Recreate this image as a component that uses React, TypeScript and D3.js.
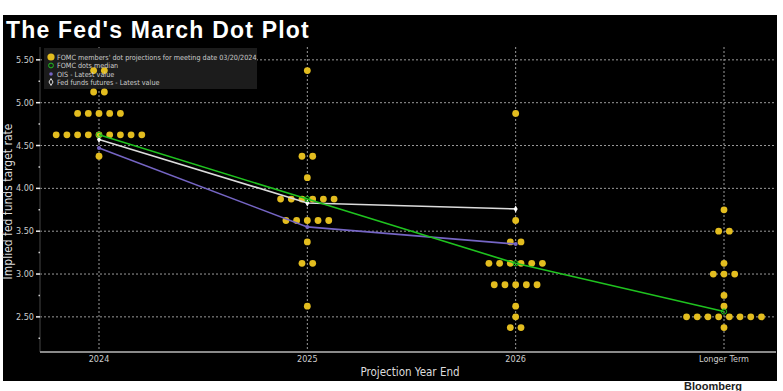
import React from 'react';
import * as d3 from 'd3';

// categories on the x axis
const categories = ['2024', '2025', '2026', 'Longer Term'];

// FOMC dot projections: [rate, number of participants] per category
const dots2024 = [[5.375, 2], [5.125, 2], [4.875, 5], [4.625, 9], [4.375, 1]];
const dots2025 = [[5.375, 1], [4.375, 2], [4.125, 1], [3.875, 6], [3.625, 5], [3.375, 1], [3.125, 2], [2.625, 1]];
const dots2026 = [[4.875, 1], [3.625, 1], [3.375, 2], [3.125, 6], [2.875, 5], [2.625, 1], [2.5, 1], [2.375, 2]];
const dotsLonger = [[3.75, 1], [3.5, 2], [3.125, 1], [3.0, 3], [2.75, 1], [2.625, 1], [2.5, 8], [2.375, 1]];
const dotSets = [dots2024, dots2025, dots2026, dotsLonger];

// lines
const medianValues = [4.625, 3.875, 3.125, 2.5625];
const oisValues = [4.47, 3.55, 3.35];
const futuresValues = [4.57, 3.83, 3.76];

const yTicks = [2.5, 3.0, 3.5, 4.0, 4.5, 5.0, 5.5];
const yMinorTicks = [2.25, 2.75, 3.25, 3.75, 4.25, 4.75, 5.25];

const legendItems = [
  "FOMC members' dot projections for meeting date 03/20/2024",
  'FOMC dots median',
  'OIS - Latest value',
  'Fed funds futures - Latest value',
];

const W = 783;
const H = 391;
const plotLeft = 40;
const plotRight = 776;
const plotTop = 47;
const plotBottom = 352;

const DOT = '#e3bd1f';
const GREEN = '#1fc21f';
const PURPLE = '#7565c4';
const WHITE_LINE = '#dcdcdc';
const FONT = '"DejaVu Sans Condensed", "DejaVu Sans", sans-serif';

export default function App() {
  const x = d3.scalePoint<string>().domain(categories).range([99, 724]);
  const y = d3.scaleLinear().domain([2.09, 5.65]).range([plotBottom, plotTop]);

  const line = d3.line<number>()
    .x((_, i) => x(categories[i]) as number)
    .y(d => y(d));

  const dotSpacing = 10.7;
  const dotMarks: { cx: number; cy: number }[] = [];
  dotSets.forEach((set, ci) => {
    const cx0 = x(categories[ci]) as number;
    set.forEach(([rate, n]) => {
      for (let i = 0; i < n; i++) {
        dotMarks.push({ cx: cx0 + (i - (n - 1) / 2) * dotSpacing, cy: y(rate) });
      }
    });
  });

  return (
    <svg width={W} height={H} style={{ position: 'absolute', left: 0, top: 0, background: '#fff' }}>
      <rect x={3} y={15} width={774} height={366} fill="#000" />

      {/* title */}
      <text x={6} y={38} fill="#fff" fontFamily='"Liberation Sans", Arial, sans-serif'
        fontWeight="bold" fontSize={23} letterSpacing={1.2}>The Fed's March Dot Plot</text>

      {/* horizontal grid */}
      {yTicks.map(t => (
        <line key={'g' + t} x1={plotLeft} x2={plotRight} y1={y(t)} y2={y(t)}
          stroke="#9a9a9a" strokeWidth={1} strokeDasharray="2,2" />
      ))}
      {/* vertical grid */}
      {categories.map(c => (
        <line key={'v' + c} x1={x(c)} x2={x(c)} y1={plotTop} y2={plotBottom}
          stroke="#9a9a9a" strokeWidth={1} strokeDasharray="2,2" />
      ))}

      {/* axes */}
      <line x1={plotLeft} x2={plotLeft} y1={plotTop} y2={plotBottom} stroke="#444" strokeWidth={1} />
      <line x1={plotLeft} x2={plotRight} y1={plotBottom} y2={plotBottom} stroke="#8a8a8a" strokeWidth={2} />
      {yTicks.map(t => (
        <g key={'t' + t}>
          <line x1={plotLeft - 4} x2={plotLeft} y1={y(t)} y2={y(t)} stroke="#eee" strokeWidth={1.5} />
          <text x={plotLeft - 6} y={y(t) + 3} textAnchor="end" fill="#ccc" fontFamily={FONT} fontSize={9}>
            {t.toFixed(2)}
          </text>
        </g>
      ))}
      {yMinorTicks.map(t => (
        <line key={'m' + t} x1={plotLeft - 1.5} x2={plotLeft} y1={y(t)} y2={y(t)} stroke="#ccc" strokeWidth={1.5} />
      ))}
      {categories.map(c => (
        <text key={'xl' + c} x={x(c)} y={362} textAnchor="middle" fill="#ccc" fontFamily={FONT} fontSize={9}>{c}</text>
      ))}
      <text x={410} y={376} textAnchor="middle" fill="#ddd" fontFamily={FONT} fontSize={11.5}>Projection Year End</text>
      <text transform={`translate(12,${(plotTop + plotBottom) / 2 + 2}) rotate(-90)`} textAnchor="middle"
        fill="#ddd" fontFamily={FONT} fontSize={12}>Implied fed funds target rate</text>

      {/* legend box (drawn under the marks, like the source) */}
      <rect x={44} y={48} width={213} height={41} fill="#1c1c1c" />

      {/* FOMC dots */}
      {dotMarks.map((d, i) => (
        <circle key={'d' + i} cx={d.cx} cy={d.cy} r={3.4} fill={DOT} />
      ))}

      {/* lines */}
      <path d={line(oisValues) || ''} fill="none" stroke={PURPLE} strokeWidth={1.6} />
      {oisValues.map((v, i) => (
        <circle key={'o' + i} cx={x(categories[i])} cy={y(v)} r={2} fill={PURPLE} />
      ))}
      <path d={line(futuresValues) || ''} fill="none" stroke={WHITE_LINE} strokeWidth={1.6} />
      {futuresValues.map((v, i) => (
        <path key={'f' + i} d={d3.symbol(d3.symbolDiamond, 14)() || ''}
          transform={`translate(${x(categories[i])},${y(v)})`} fill="#fff" />
      ))}
      <path d={line(medianValues) || ''} fill="none" stroke={GREEN} strokeWidth={1.6} />
      {medianValues.map((v, i) => (
        <circle key={'md' + i} cx={x(categories[i])} cy={y(v)} r={2.6} fill="none" stroke={GREEN} strokeWidth={1} />
      ))}

      {/* legend entries */}
      <circle cx={51} cy={57} r={3.6} fill={DOT} />
      <circle cx={51} cy={65.5} r={2.4} fill="none" stroke={GREEN} strokeWidth={1} />
      <circle cx={51} cy={74} r={1.8} fill={PURPLE} />
      <path d={d3.symbol(d3.symbolDiamond, 14)() || ''} transform="translate(51,82)" fill="none" stroke="#ddd" strokeWidth={1} />
      {legendItems.map((t, i) => (
        <text key={'lg' + i} x={57} y={60 + i * 8.3} fill="#ccc" fontFamily={FONT} fontSize={7.2}>{t}</text>
      ))}

      {/* source logo at the bottom edge */}
      <text x={684} y={390} fill="#222" fontFamily='"Liberation Sans", Arial, sans-serif' fontWeight="bold" fontSize={11}>Bloomberg</text>
    </svg>
  );
}
